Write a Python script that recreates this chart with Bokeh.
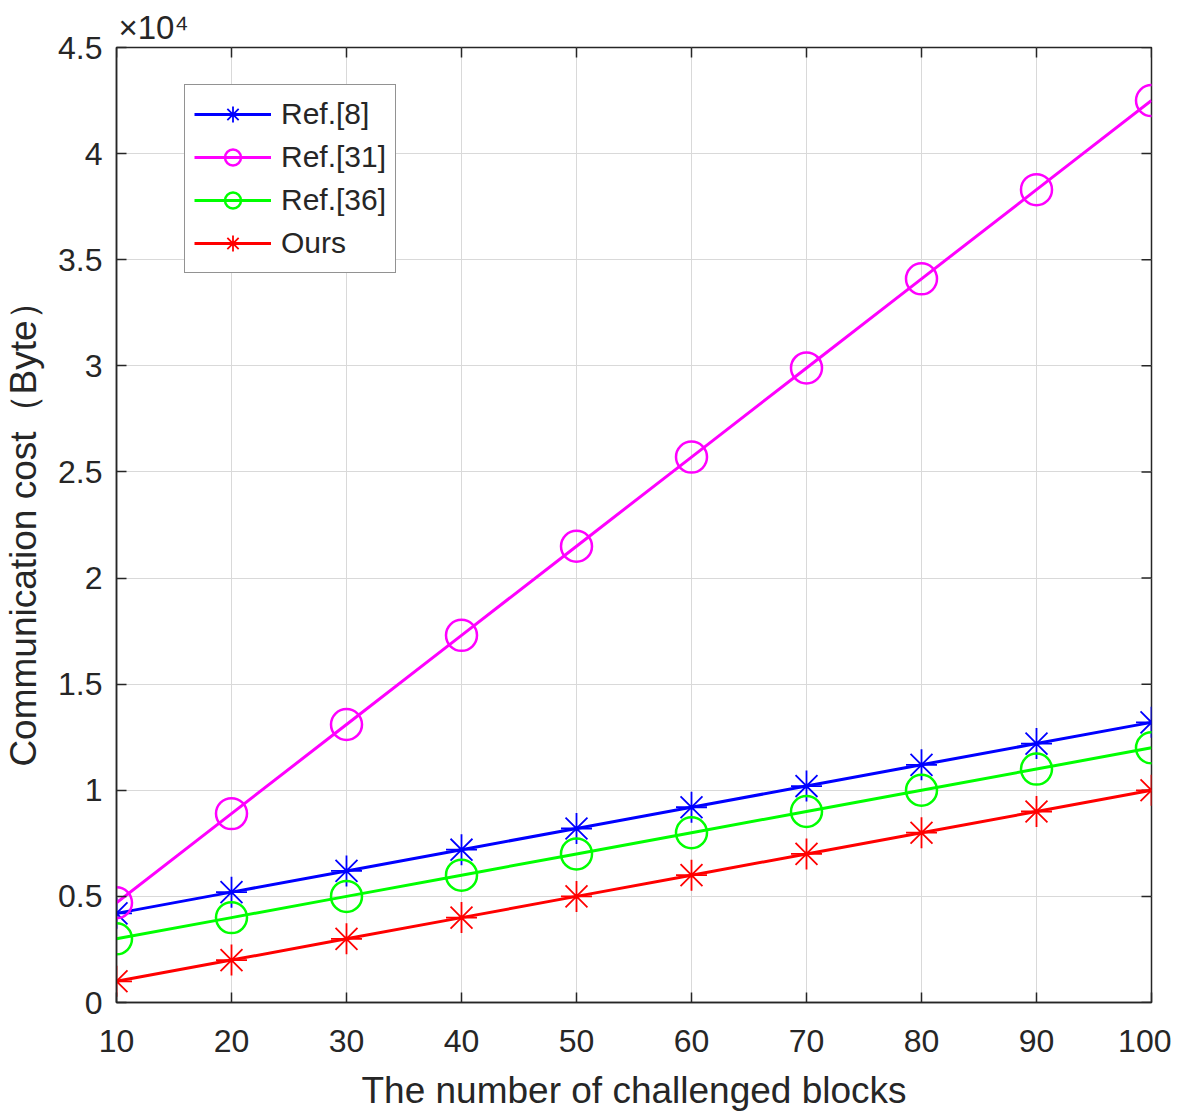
import math
from bokeh.plotting import figure
from bokeh.models import FixedTicker, Legend, LegendItem, Title
from bokeh.embed import file_html
from bokeh.resources import INLINE

# ---- data ----
x_blocks = [10, 20, 30, 40, 50, 60, 70, 80, 90, 100]
ref8 = [4200, 5200, 6200, 7200, 8200, 9200, 10200, 11200, 12200, 13200]
ref31 = [4700, 8900, 13100, 17300, 21500, 25700, 29900, 34100, 38300, 42500]
ref36 = [3000, 4000, 5000, 6000, 7000, 8000, 9000, 10000, 11000, 12000]
ours = [1000, 2000, 3000, 4000, 5000, 6000, 7000, 8000, 9000, 10000]

x_ticks = [10, 20, 30, 40, 50, 60, 70, 80, 90, 100]
y_ticks = [0, 5000, 10000, 15000, 20000, 25000, 30000, 35000, 40000, 45000]
y_tick_labels = ["0", "0.5", "1", "1.5", "2", "2.5", "3", "3.5", "4", "4.5"]

FONT = "Liberation Sans"
DARK = "#262626"

p = figure(width=1171, height=1114, output_backend="svg", toolbar_location=None,
           x_range=(x_ticks[0], x_ticks[-1]), y_range=(y_ticks[0], y_ticks[-1]),
           min_border_left=114, min_border_top=47, min_border_right=20, min_border_bottom=112,
           background_fill_color="white", border_fill_color="white")

p.title = Title(text="×10⁴", align="left", offset=2, standoff=3,
                text_font=FONT, text_font_size="33px", text_font_style="normal",
                text_color=DARK)

p.outline_line_color = DARK
p.outline_line_width = 1.5

xt = FixedTicker(ticks=x_ticks, minor_ticks=[])
yt = FixedTicker(ticks=y_ticks, minor_ticks=[])

for ax in [p.xaxis[0], p.yaxis[0]]:
    ax.axis_line_color = DARK
    ax.axis_line_width = 1.5
    ax.major_tick_in = 10
    ax.major_tick_out = 0
    ax.major_tick_line_color = DARK
    ax.major_tick_line_width = 1.5
    ax.minor_tick_in = 0
    ax.minor_tick_out = 0
    ax.major_label_text_font = FONT
    ax.major_label_text_font_size = "32px"
    ax.major_label_text_color = DARK
    ax.axis_label_text_font = FONT
    ax.axis_label_text_font_size = "37px"
    ax.axis_label_text_font_style = "normal"
    ax.axis_label_text_color = DARK

p.xaxis[0].ticker = xt
p.yaxis[0].ticker = yt
p.yaxis[0].major_label_overrides = {t: s for t, s in zip(y_ticks, y_tick_labels)}
p.xaxis[0].major_label_standoff = 27
p.yaxis[0].major_label_standoff = 14
p.xaxis[0].axis_label = "The number of challenged blocks"
p.yaxis[0].axis_label = "Communication cost（Byte）"
p.xaxis[0].axis_label_standoff = 15
p.yaxis[0].axis_label_standoff = 11

p.xgrid.ticker = xt
p.ygrid.ticker = yt
p.xgrid.grid_line_color = "#d9d9d9"
p.ygrid.grid_line_color = "#d9d9d9"
p.xgrid.grid_line_width = 1
p.ygrid.grid_line_width = 1

# inward tick marks on the top and right edges of the box (clipped to the frame)
p.scatter(x_ticks, [y_ticks[-1]] * len(x_ticks), marker="dash", size=20, angle=math.pi / 2,
          line_color=DARK, line_width=1.5)
p.scatter([x_ticks[-1]] * len(y_ticks), y_ticks, marker="dash", size=20,
          line_color=DARK, line_width=1.5)

series = [
    ("Ref.[8]", ref8, "#0000ff", "asterisk"),
    ("Ref.[31]", ref31, "#ff00ff", "circle"),
    ("Ref.[36]", ref36, "#00ff00", "circle"),
    ("Ours", ours, "#ff0000", "asterisk"),
]

items = []
for name, ys, color, marker in series:
    l = p.line(x_blocks, ys, line_color=color, line_width=3)
    if marker == "circle":
        s = p.scatter(x_blocks, ys, marker="circle", size=31, fill_color=None,
                      line_color=color, line_width=2.5)
    else:
        s = p.scatter(x_blocks, ys, marker="asterisk", size=31,
                      line_color=color, line_width=1.8)
    items.append(LegendItem(label=name, renderers=[l, s]))

legend = Legend(items=items, location=(68, 729), label_text_font=FONT,
                label_text_font_size="30px", label_text_color=DARK,
                glyph_width=77, glyph_height=40, spacing=3, padding=9,
                label_standoff=10, border_line_color=DARK, border_line_width=1.5,
                background_fill_color="white", background_fill_alpha=1.0, margin=0)
p.add_layout(legend, "center")

open("out.html", "w").write(file_html(p, INLINE))
